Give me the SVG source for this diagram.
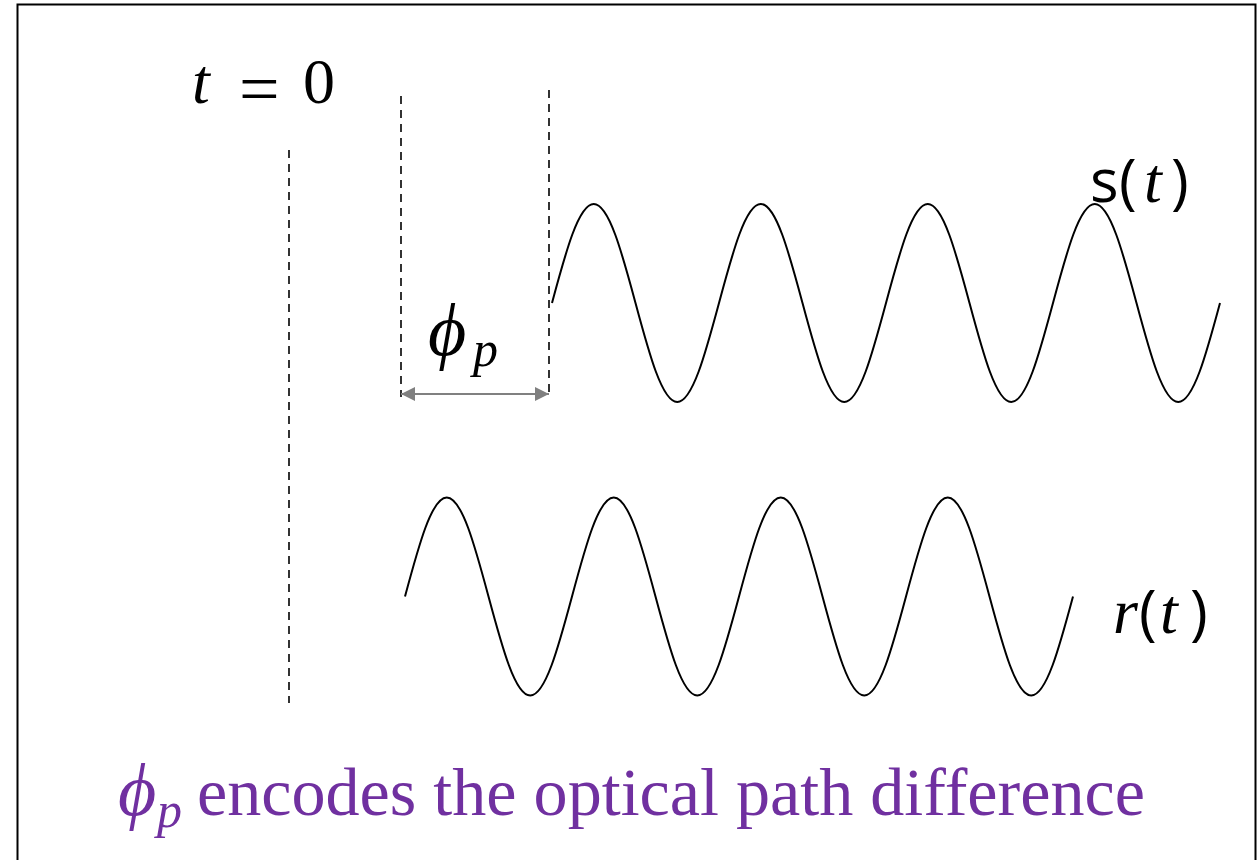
<svg xmlns="http://www.w3.org/2000/svg" width="1258" height="860" viewBox="0 0 1258 860">
  <style>
    .frame { fill: #ffffff; stroke: #000000; stroke-width: 2; }
    .dash { stroke: #000000; stroke-width: 1.6; stroke-dasharray: 8 6; fill: none; }
    .wave { stroke: #000000; stroke-width: 2; fill: none; }
    .dim { stroke: #808080; stroke-width: 2.2; fill: none; }
    .math { font-family: "Liberation Serif", "DejaVu Serif", serif; font-style: italic; fill: #000000; }
    .up { font-family: "Liberation Serif", "DejaVu Serif", serif; fill: #000000; }
    .sans { font-family: "Open Sans", "DejaVu Sans", sans-serif; fill: #000000; }
    .caption { font-family: "Liberation Serif", "DejaVu Serif", serif; fill: #7030A0; }
  </style>
  <defs>
    <marker id="ah" markerUnits="userSpaceOnUse" viewBox="0 0 14 14" refX="14" refY="7" markerWidth="14" markerHeight="14" orient="auto-start-reverse">
      <path d="M0,0 L14,7 L0,14 z" fill="#808080"/>
    </marker>
  </defs>

  <rect class="frame" x="17.5" y="4.5" width="1238" height="900"/>

  <g id="connectors">
    <line id="t0-line" class="dash" x1="289" y1="150" x2="289" y2="703"/>
    <line id="ref-line-left" class="dash" x1="401" y1="96" x2="401" y2="397"/>
    <line id="ref-line-right" class="dash" x1="549" y1="90" x2="549" y2="397"/>
    <line id="phi-arrow" class="dim" x1="401" y1="394" x2="549" y2="394" marker-start="url(#ah)" marker-end="url(#ah)"/>
  </g>

  <g id="wave-s">
    <path class="wave" d="M552,303
      c13.62,-50.72 26.64,-99 41.75,-99 c15.11,0 28.13,48.28 41.75,99 c13.62,50.72 26.64,99 41.75,99 c15.11,0 28.13,-48.28 41.75,-99
      c13.62,-50.72 26.64,-99 41.75,-99 c15.11,0 28.13,48.28 41.75,99 c13.62,50.72 26.64,99 41.75,99 c15.11,0 28.13,-48.28 41.75,-99
      c13.62,-50.72 26.64,-99 41.75,-99 c15.11,0 28.13,48.28 41.75,99 c13.62,50.72 26.64,99 41.75,99 c15.11,0 28.13,-48.28 41.75,-99
      c13.62,-50.72 26.64,-99 41.75,-99 c15.11,0 28.13,48.28 41.75,99 c13.62,50.72 26.64,99 41.75,99 c15.11,0 28.13,-48.28 41.75,-99"/>
  </g>

  <g id="wave-r">
    <path class="wave" d="M405,596.5
      c13.62,-50.72 26.64,-99 41.75,-99 c15.11,0 28.13,48.28 41.75,99 c13.62,50.72 26.64,99 41.75,99 c15.11,0 28.13,-48.28 41.75,-99
      c13.62,-50.72 26.64,-99 41.75,-99 c15.11,0 28.13,48.28 41.75,99 c13.62,50.72 26.64,99 41.75,99 c15.11,0 28.13,-48.28 41.75,-99
      c13.62,-50.72 26.64,-99 41.75,-99 c15.11,0 28.13,48.28 41.75,99 c13.62,50.72 26.64,99 41.75,99 c15.11,0 28.13,-48.28 41.75,-99
      c13.62,-50.72 26.64,-99 41.75,-99 c15.11,0 28.13,48.28 41.75,99 c13.62,50.72 26.64,99 41.75,99 c15.11,0 28.13,-48.28 41.75,-99"/>
  </g>

  <g id="label-t0">
    <text y="103" font-size="64"><tspan class="math" x="192">t</tspan><tspan class="up" x="239" y="113" font-size="72">=</tspan><tspan class="up" x="303" y="103">0</tspan></text>
  </g>

  <g id="label-phi">
    <text y="355" font-size="74"><tspan class="math" x="428">ϕ</tspan><tspan class="math" x="473" y="366" font-size="50">p</tspan></text>
  </g>

  <g id="label-s">
    <text y="202" font-size="60"><tspan class="sans" x="1090">s</tspan><tspan class="sans" x="1119">(</tspan><tspan class="math" x="1144" font-size="64">t</tspan><tspan class="sans" x="1171">)</tspan></text>
  </g>

  <g id="label-r">
    <text y="633" font-size="60"><tspan class="math" x="1113" font-size="64">r</tspan><tspan class="sans" x="1139">(</tspan><tspan class="math" x="1160" font-size="64">t</tspan><tspan class="sans" x="1190">)</tspan></text>
  </g>

  <g id="caption">
    <text y="815" class="caption" font-size="74"><tspan font-style="italic" x="118">ϕ</tspan><tspan font-style="italic" x="157" y="827" font-size="50">p</tspan><tspan x="197" y="815" font-size="68" textLength="948" lengthAdjust="spacingAndGlyphs">encodes the optical path difference</tspan></text>
  </g>
</svg>
